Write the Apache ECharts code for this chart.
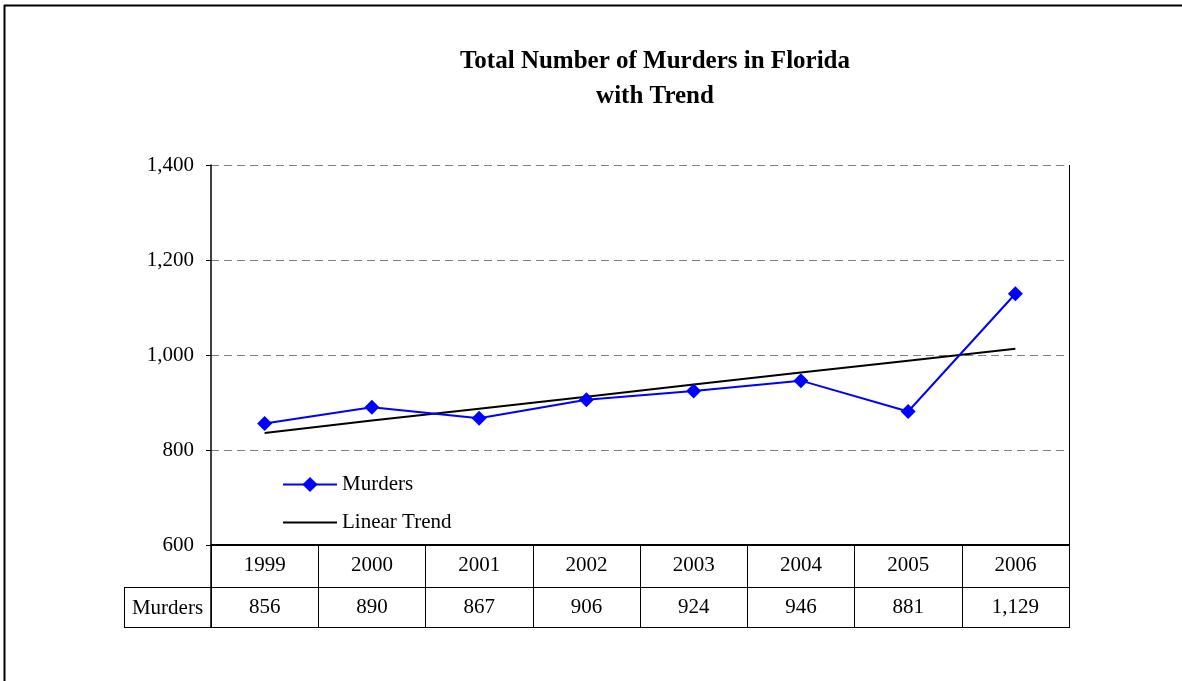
<!DOCTYPE html>
<html>
<head>
<meta charset="utf-8">
<script src="https://cdn.jsdelivr.net/npm/echarts@6/dist/echarts.min.js"></script>
<style>html,body{margin:0;padding:0;background:#fff}#c{width:1182px;height:681px}</style>
</head>
<body>
<div id="c"></div>
<script>
var years = ['1999','2000','2001','2002','2003','2004','2005','2006'];
var murders = [856, 890, 867, 906, 924, 946, 881, 1129];
var trend = [836, 862, 887, 912, 938, 963, 988, 1013];
var yTicks = [600, 800, 1000, 1200, 1400];

var FONT = 'Liberation Serif';
var G = {left: 211, right: 1069, top: 165, bottom: 545};
var ROW1 = 587, ROW2 = 627, LABELX = 124;
function fmt(v){ return String(v).replace(/\B(?=(\d{3})+(?!\d))/g, ','); }

var chart = echarts.init(document.getElementById('c'));
chart.setOption({
  backgroundColor: '#fff',
  animation: false,
  title: {
    text: 'Total Number of Murders in Florida\nwith Trend',
    left: 650, top: 39, textAlign: 'center',
    textStyle: {fontFamily: FONT, fontSize: 25, fontWeight: 'bold', color: '#000', lineHeight: 35}
  },
  legend: {
    orient: 'vertical', left: 277, top: 469,
    itemWidth: 54, itemHeight: 19, itemGap: 17,
    textStyle: {fontFamily: FONT, fontSize: 21, color: '#000'},
    data: ['Murders', {name: 'Linear Trend', itemStyle: {color: 'rgba(0,0,0,0)', opacity: 0}}]
  },
  grid: {left: G.left, right: 1182 - G.right, top: G.top, bottom: 681 - G.bottom, containLabel: false},
  xAxis: [{
    type: 'category', data: years, position: 'bottom',
    axisLine: {lineStyle: {color: '#000', width: 2}},
    axisTick: {show: true, length: ROW2 - G.bottom, alignWithLabel: false, interval: 0, lineStyle: {color: '#000', width: 1}},
    axisLabel: {fontFamily: FONT, fontSize: 21, color: '#000', margin: 10, interval: 0},
    splitLine: {show: false}
  }, {
    type: 'category', data: murders.map(fmt), position: 'bottom', offset: ROW1 - G.bottom,
    axisLine: {show: true, lineStyle: {color: '#000', width: 1}},
    axisTick: {show: false},
    axisLabel: {fontFamily: FONT, fontSize: 21, color: '#000', margin: 10, interval: 0},
    splitLine: {show: false}
  }],
  yAxis: {
    type: 'value', min: yTicks[0], max: yTicks[yTicks.length - 1], interval: 200,
    axisLine: {show: true, lineStyle: {color: '#000', width: 1.5}},
    axisTick: {show: true, length: 5, lineStyle: {color: '#000'}},
    axisLabel: {fontFamily: FONT, fontSize: 21, color: '#000', margin: 17, formatter: function(v){return fmt(v);}},
    splitLine: {show: true, lineStyle: {color: '#808080', type: [8, 5], width: 1}}
  },
  series: [{
    name: 'Murders', type: 'line', data: murders,
    symbol: 'diamond', symbolSize: 15,
    lineStyle: {color: '#0000ff', width: 2},
    itemStyle: {color: '#0000ff'},
    z: 3
  }, {
    name: 'Linear Trend', type: 'line', data: trend,
    symbol: 'none',
    lineStyle: {color: '#000', width: 2},
    itemStyle: {color: '#000'},
    z: 2
  }],
  graphic: [
    {type: 'line', shape: {x1: 4.5, y1: 5, x2: 4.5, y2: 681}, style: {stroke: '#000', lineWidth: 2}},
    {type: 'line', shape: {x1: 4, y1: 5.5, x2: 1182, y2: 5.5}, style: {stroke: '#000', lineWidth: 2}},
    {type: 'line', shape: {x1: G.left, y1: G.bottom, x2: G.left, y2: ROW2}, style: {stroke: '#000', lineWidth: 1.5}},
    {type: 'line', shape: {x1: G.right + 0.5, y1: G.top, x2: G.right + 0.5, y2: ROW2}, style: {stroke: '#000', lineWidth: 1}},
    {type: 'line', shape: {x1: LABELX, y1: ROW1 + 0.5, x2: G.right, y2: ROW1 + 0.5}, style: {stroke: '#000', lineWidth: 1}},
    {type: 'line', shape: {x1: LABELX, y1: ROW2 + 0.5, x2: G.right + 1, y2: ROW2 + 0.5}, style: {stroke: '#000', lineWidth: 1}},
    {type: 'line', shape: {x1: LABELX + 0.5, y1: ROW1, x2: LABELX + 0.5, y2: ROW2}, style: {stroke: '#000', lineWidth: 1}},
    {type: 'text', x: (LABELX + G.left) / 2, y: (ROW1 + ROW2) / 2 + 1,
     style: {text: 'Murders', fontFamily: FONT, fontSize: 21, fill: '#000', align: 'center', verticalAlign: 'middle'}}
  ]
});
</script>
</body>
</html>
